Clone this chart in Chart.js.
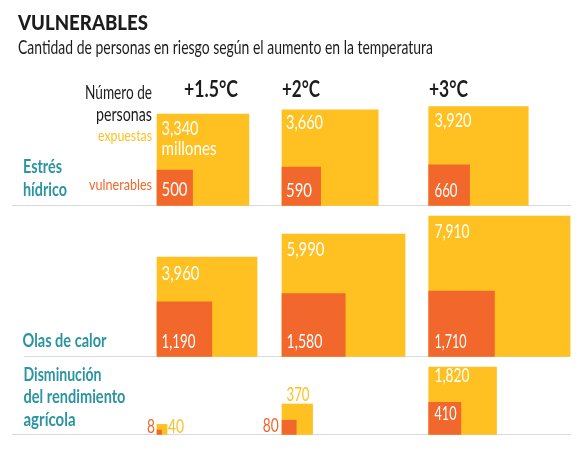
<!DOCTYPE html>
<html lang="es"><head><meta charset="utf-8">
<style>html,body{margin:0;padding:0;background:#fff}canvas{display:block}</style>
<script src="https://cdn.jsdelivr.net/npm/chart.js@4"></script>
</head><body><canvas id="c" width="580" height="452"></canvas>
<script>
// --- data ---
const temperatures = ['+1.5°C', '+2°C', '+3°C'];
const categories = ['Estrés hídrico', 'Olas de calor', 'Disminución del rendimiento agrícola'];
const exposedWater = [3340, 3660, 3920];
const vulnerableWater = [500, 590, 660];
const exposedHeat = [3960, 5990, 7910];
const vulnerableHeat = [1190, 1580, 1710];
const exposedCrop = [40, 370, 1820];
const vulnerableCrop = [8, 80, 410];

// --- layout ---
const columnLeft = [157, 282, 428.7];
const rowBase = [205.4, 356.4, 434.4];
const ruleSpan = [[12, 571], [24, 570], [12, 571]];
const pxPerRoot = 1.59;
const YELLOW = '#FFC022', ORANGE = '#F2672B', TEAL = '#2B94A2', RULE = '#D6D9DD', INK = '#1C1C1C';
const FACE = 'Lato, "Noto Sans", sans-serif';

const side = v => pxPerRoot * Math.sqrt(v);
const fmt = v => v.toLocaleString('en-US');
const rows = [[exposedWater, vulnerableWater], [exposedHeat, vulnerableHeat], [exposedCrop, vulnerableCrop]];

const datasets = [];
rowBase.forEach((b, r) => {
  datasets.push({ type: 'line', label: 'rule' + r, order: 3, borderColor: RULE, borderWidth: 1, pointRadius: 0,
    data: ruleSpan[r].map(x => ({ x, y: b + 0.1 })) });
});
rows.forEach((pair, r) => pair.forEach((vals, kind) => vals.forEach((v, c) => {
  const s = side(v);
  datasets.push({
    type: 'bar', label: categories[r] + ' ' + temperatures[c] + (kind ? ' vulnerables' : ' expuestas'),
    order: kind ? 0 : 1, grouped: false, barThickness: s, borderWidth: 0,
    backgroundColor: kind ? ORANGE : YELLOW,
    data: [{ x: columnLeft[c] + s / 2, y: [rowBase[r] - s * 0.993, rowBase[r]] }]
  });
})));

// [text, x, baseline, colour, font, align, width]
const W = 'white';
const num = '19px ' + FACE;
const small = '20px ' + FACE;
const head = 'bold 18.5px ' + FACE;
const temp = 'bold 22px ' + FACE;
const texts = [
  ['VULNERABLES', 18, 30, INK, '900 21px ' + FACE, 'left', 130],
  ['Cantidad de personas en riesgo según el aumento en la temperatura', 18, 54, INK, '19px ' + FACE, 'left', 415],
  ['Número de', 152, 99, INK, '18.5px ' + FACE, 'right', 67],
  ['personas', 152, 120.5, INK, '18.5px ' + FACE, 'right', 56],
  ['expuestas', 152, 141, YELLOW, '16px ' + FACE, 'right', 54],
  ['vulnerables', 152, 190, ORANGE, '16px ' + FACE, 'right', 63],
  [temperatures[0], 184, 97, INK, temp, 'left', 54],
  [temperatures[1], 282, 96.5, INK, temp, 'left', 38],
  [temperatures[2], 429, 97, INK, temp, 'left', 39],
  ['Estrés', 23, 173, TEAL, head, 'left', 39],
  ['hídrico', 23, 196, TEAL, head, 'left', 44],
  ['Olas de calor', 22.5, 346.5, TEAL, head, 'left', 84],
  ['Disminución', 23.5, 380.5, TEAL, head, 'left', 78],
  ['del rendimiento', 23.5, 403, TEAL, head, 'left', 102],
  ['agrícola', 23.5, 425.5, TEAL, head, 'left', 52],
  [fmt(exposedWater[0]), 161.5, 134.5, W, num, 'left', 37],
  ['millones', 161.5, 155, W, num, 'left', 55],
  [fmt(vulnerableWater[0]), 161.5, 196, W, num, 'left', 26],
  [fmt(exposedWater[1]), 286, 129, W, num, 'left', 37],
  [fmt(vulnerableWater[1]), 286, 197, W, num, 'left', 26],
  [fmt(exposedWater[2]), 434.5, 127, W, num, 'left', 37],
  [fmt(vulnerableWater[2]), 434.5, 196.5, W, num, 'left', 23],
  [fmt(exposedHeat[0]), 161.5, 280, W, num, 'left', 38],
  [fmt(vulnerableHeat[0]), 161.5, 347.5, W, num, 'left', 34],
  [fmt(exposedHeat[1]), 286.5, 255.5, W, num, 'left', 38],
  [fmt(vulnerableHeat[1]), 286.5, 347.5, W, num, 'left', 36],
  [fmt(exposedHeat[2]), 434.5, 237.5, W, num, 'left', 35],
  [fmt(vulnerableHeat[2]), 434.5, 347.5, W, num, 'left', 32],
  [fmt(vulnerableCrop[0]), 155, 433, ORANGE, small, 'right', 8],
  [fmt(exposedCrop[0]), 168, 433, YELLOW, small, 'left', 16],
  [fmt(vulnerableCrop[1]), 278.7, 432, ORANGE, small, 'right', 16],
  [fmt(exposedCrop[1]), 286.5, 401, YELLOW, small, 'left', 23],
  [fmt(exposedCrop[2]), 434.5, 381.5, W, num, 'left', 35],
  [fmt(vulnerableCrop[2]), 434.5, 420, W, num, 'left', 22]
];

const textPlugin = {
  id: 'texts',
  afterDraw(chart) {
    const ctx = chart.ctx;
    ctx.save();
    ctx.textBaseline = 'alphabetic';
    texts.forEach(([t, x, y, col, font, align, w]) => {
      ctx.font = font; ctx.fillStyle = col; ctx.textAlign = align;
      ctx.fillText(t, x, y, w);
    });
    ctx.restore();
  }
};

new Chart(document.getElementById('c'), {
  data: { datasets },
  plugins: [textPlugin],
  options: {
    responsive: false, animation: false, devicePixelRatio: 1,
    layout: { padding: 0 },
    plugins: { legend: { display: false }, title: { display: false }, tooltip: { enabled: false } },
    scales: {
      x: { type: 'linear', min: 0, max: 580, display: false, offset: false },
      y: { type: 'linear', min: 0, max: 452, reverse: true, display: false }
    }
  }
});
</script></body></html>
